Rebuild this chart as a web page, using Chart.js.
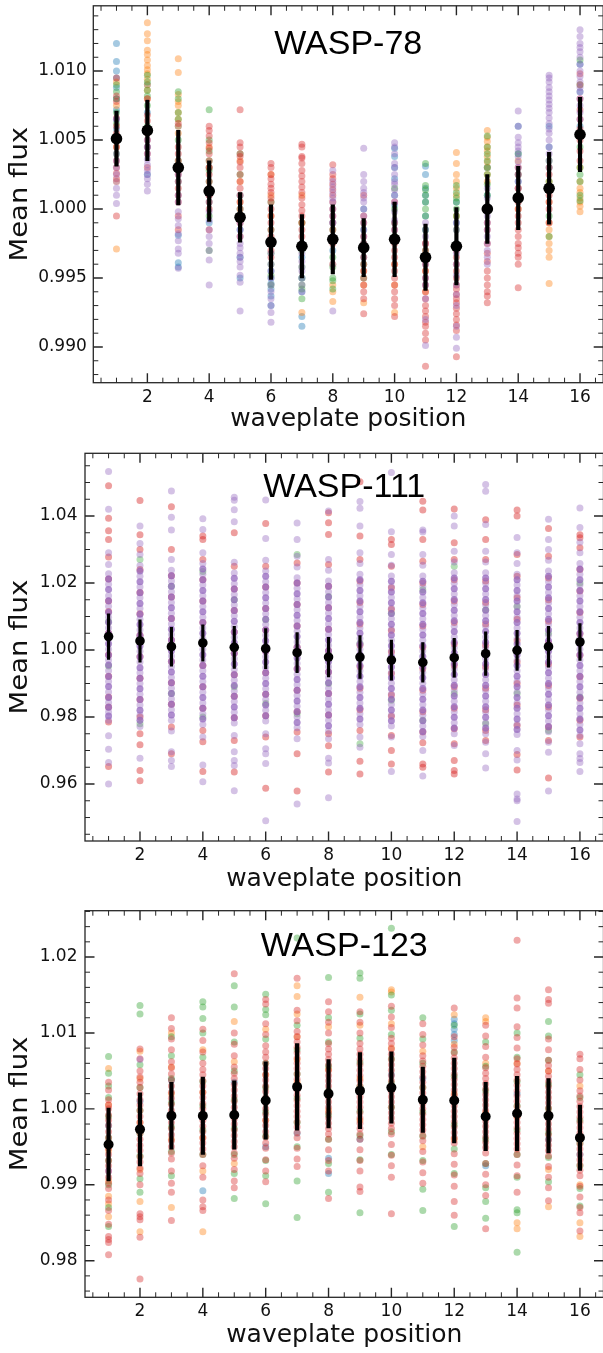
<!DOCTYPE html>
<html>
<head>
<meta charset="utf-8">
<script src="https://cdn.jsdelivr.net/npm/chart.js@4.4.0/dist/chart.umd.min.js"></script>
<style>
  html, body { margin: 0; padding: 0; background: #fff; overflow: hidden; }
  body { width: 603px; height: 1353px; position: relative; }
  canvas { position: absolute; left: 0; }
</style>
</head>
<body>
<canvas id="c78" width="610" height="445" style="top:0px"></canvas>
<canvas id="c111" width="610" height="460" style="top:440px"></canvas>
<canvas id="c123" width="610" height="463" style="top:890px"></canvas>
<script>
// waveplate positions (x categories) and labelled ticks
var positions = [1, 2, 3, 4, 5, 6, 7, 8, 9, 10, 11, 12, 13, 14, 15, 16];
var xTicks = [2, 4, 6, 8, 10, 12, 14, 16];

// ---------- WASP-78 ----------
var w78YTicks = [0.990, 0.995, 1.000, 1.005, 1.010];
var w78Mean = [1.0051, 1.0057, 1.0030, 1.0013, 0.9994, 0.9976, 0.9973, 0.9978, 0.9972, 0.9978, 0.9965, 0.9973, 1.0000, 1.0008, 1.0015, 1.0054];
var w78Err = [0.0020, 0.0022, 0.0027, 0.0022, 0.0018, 0.0027, 0.0023, 0.0025, 0.0021, 0.0027, 0.0024, 0.0028, 0.0025, 0.0023, 0.0026, 0.0027];
var w78Blue = [
  [1.0120, 1.0107, 1.0100, 1.0088, 1.0072, 1.0050, 1.0095, 1.0080, 1.0065, 1.0058],
  [1.0090, 1.0070, 1.0045, 1.0025],
  [1.0060, 1.0020, 0.9981, 0.9961, 0.9958],
  [1.0030, 1.0005, 0.9990],
  [1.0010, 0.9985, 0.9965, 0.9950],
  [0.9975, 0.9955, 0.9942, 0.9937, 0.9930, 0.9950, 0.9946],
  [0.9965, 0.9950, 0.9940, 0.9922, 0.9915],
  [0.9990, 0.9970],
  [1.0000, 0.9985, 0.9965],
  [1.0044, 1.0030, 1.0010, 0.9990, 1.0038, 1.0022, 1.0003],
  [1.0031, 1.0015, 1.0005, 0.9995, 0.9985, 1.0025, 1.0010],
  [1.0005, 0.9990],
  [1.0030, 1.0010],
  [1.0060, 1.0040, 1.0020],
  [1.0060, 1.0045, 1.0030],
  [1.0105, 1.0085, 1.0060]
];
var w78Orange = [
  [1.0092, 1.0075, 1.0045, 1.0020, 0.9971],
  [1.0135, 1.0127, 1.0122, 1.0115, 1.0112, 1.0104, 1.0098, 1.0090, 1.0108, 1.0101, 1.0094, 1.0086, 1.0080],
  [1.0109, 1.0099, 1.0083, 1.0075, 1.0065, 1.0055, 1.0078, 1.0070, 1.0060],
  [1.0045, 1.0030, 1.0010],
  [1.0035, 1.0020, 1.0005],
  [1.0025, 1.0010, 0.9995],
  [1.0010, 0.9990, 0.9925],
  [0.9960, 0.9945, 0.9940, 0.9933],
  [0.9955, 0.9945, 0.9932],
  [0.9960, 0.9945, 0.9925],
  [0.9975, 0.9955, 0.9940],
  [1.0041, 1.0033, 1.0025, 1.0010, 0.9995, 1.0020, 1.0015],
  [1.0057, 1.0052, 1.0045, 1.0038, 1.0030, 1.0020, 1.0049, 1.0042, 1.0034, 1.0025],
  [1.0035, 1.0015, 1.0000],
  [1.0020, 1.0005, 0.9990, 0.9980, 0.9970, 0.9965, 0.9946, 0.9985, 0.9975],
  [1.0030, 1.0020, 1.0012, 1.0005, 0.9998, 1.0015, 1.0008, 1.0002]
];
var w78Green = [
  [1.0090, 1.0080, 1.0062, 1.0040, 1.0085, 1.0070],
  [1.0097, 1.0086, 1.0075, 1.0060, 1.0092, 1.0082],
  [1.0085, 1.0070, 1.0050, 1.0035, 1.0080, 1.0065],
  [1.0072, 1.0050, 1.0035, 1.0020, 0.9995, 0.9970, 1.0042, 1.0028],
  [1.0040, 1.0025, 1.0000],
  [1.0005, 0.9985, 0.9960, 0.9945, 0.9978, 0.9968, 0.9952],
  [0.9990, 0.9970, 0.9950, 0.9945, 0.9935, 0.9958, 0.9942],
  [0.9985, 0.9965, 0.9950, 0.9942, 0.9958, 0.9948],
  [0.9975, 0.9960, 0.9950],
  [1.0015, 1.0000, 0.9980],
  [1.0033, 1.0017, 1.0010, 1.0000, 0.9985, 0.9970, 1.0014, 1.0005, 0.9995],
  [1.0017, 1.0012, 1.0005, 0.9995, 0.9985, 0.9975, 1.0008, 1.0000],
  [1.0053, 1.0045, 1.0035, 1.0025, 1.0010, 1.0040, 1.0030, 1.0018],
  [1.0040, 1.0025, 1.0010],
  [1.0035, 1.0020, 0.9995, 0.9980],
  [1.0108, 1.0090, 1.0045, 1.0025, 1.0006, 1.0030, 1.0020, 1.0010]
];
var w78Red = [
  [1.0095, 1.0082, 1.0066, 1.0055, 1.0030, 1.0022, 0.9995, 1.0078, 1.0060, 1.0045, 1.0035, 1.0026],
  [1.0080, 1.0068, 1.0055, 1.0040, 1.0030, 1.0064, 1.0058, 1.0050, 1.0045],
  [1.0062, 1.0045, 1.0030, 1.0015, 1.0005, 0.9995, 0.9985, 1.0040, 1.0035, 1.0025, 1.0020, 1.0010],
  [1.0060, 1.0057, 1.0053, 1.0044, 1.0025, 1.0015, 1.0000, 0.9985, 1.0048, 1.0040, 1.0035, 1.0030, 1.0020, 1.0010, 1.0005],
  [1.0072, 1.0048, 1.0045, 1.0038, 1.0030, 1.0020, 1.0010, 0.9995, 0.9980, 1.0040, 1.0034, 1.0025, 1.0015, 1.0005, 1.0000, 0.9990],
  [1.0033, 1.0025, 1.0018, 1.0012, 1.0005, 0.9995, 0.9985, 0.9975, 0.9965, 1.0030, 1.0022, 1.0015, 1.0008, 1.0000, 0.9990, 0.9980, 0.9970],
  [1.0047, 1.0045, 1.0038, 1.0037, 1.0028, 1.0020, 1.0012, 1.0003, 0.9995, 0.9980, 1.0033, 1.0024, 1.0016, 1.0008, 0.9999, 0.9990, 0.9985],
  [1.0032, 1.0025, 1.0018, 1.0010, 1.0000, 0.9990, 0.9975, 1.0022, 1.0014, 1.0005, 0.9995, 0.9985],
  [1.0010, 0.9995, 0.9980, 0.9965, 0.9950, 0.9935, 0.9924, 0.9990, 0.9975, 0.9960, 0.9955, 0.9945, 0.9940],
  [1.0005, 0.9990, 0.9975, 0.9965, 0.9955, 0.9945, 0.9935, 0.9930, 0.9922, 0.9985, 0.9970, 0.9960, 0.9950, 0.9940],
  [0.9975, 0.9960, 0.9950, 0.9940, 0.9930, 0.9922, 0.9915, 0.9910, 0.9905, 0.9886, 0.9970, 0.9965, 0.9955, 0.9945, 0.9935, 0.9926, 0.9918],
  [0.9970, 0.9960, 0.9950, 0.9942, 0.9935, 0.9928, 0.9920, 0.9912, 0.9893, 0.9965, 0.9955, 0.9945, 0.9938, 0.9932, 0.9924, 0.9916],
  [0.9990, 0.9975, 0.9962, 0.9955, 0.9945, 0.9940, 0.9937, 0.9932, 0.9985, 0.9968, 0.9950],
  [1.0030, 1.0015, 1.0000, 0.9990, 0.9980, 0.9972, 0.9965, 0.9960, 0.9943, 1.0025, 1.0005, 0.9995, 0.9985, 0.9975, 0.9968],
  [1.0030, 1.0015, 1.0000, 0.9990, 1.0025, 1.0010, 1.0005],
  [1.0098, 1.0080, 1.0065, 1.0050, 1.0035, 1.0090, 1.0072, 1.0058, 1.0042]
];
var w78Purple = [
  [1.0065, 1.0040, 1.0025, 1.0015, 1.0010, 1.0004, 1.0035, 1.0030, 1.0020],
  [1.0050, 1.0036, 1.0028, 1.0022, 1.0018, 1.0013, 1.0045, 1.0040, 1.0032, 1.0025],
  [1.0025, 1.0010, 0.9998, 0.9988, 0.9971, 0.9968, 0.9957, 1.0005, 0.9993, 0.9982, 0.9977],
  [1.0010, 0.9998, 0.9985, 0.9975, 0.9970, 0.9963, 0.9945, 0.9992, 0.9980],
  [0.9990, 0.9980, 0.9972, 0.9965, 0.9958, 0.9947, 0.9926, 0.9985, 0.9975, 0.9968, 0.9962, 0.9952],
  [0.9968, 0.9955, 0.9945, 0.9935, 0.9930, 0.9925, 0.9918, 0.9960, 0.9950, 0.9940],
  [0.9975, 0.9962, 0.9955, 0.9945, 0.9940, 0.9968, 0.9958, 0.9950],
  [1.0020, 1.0012, 1.0005, 0.9995, 0.9980, 0.9960, 0.9926, 1.0028, 1.0016, 1.0008, 1.0000, 0.9990],
  [1.0044, 1.0025, 1.0020, 1.0012, 1.0005, 0.9995, 0.9985, 0.9975, 1.0015, 1.0008, 1.0000, 0.9990, 0.9980],
  [1.0048, 1.0045, 1.0033, 1.0025, 1.0018, 1.0010, 0.9998, 0.9985, 1.0040, 1.0030, 1.0020, 1.0014, 1.0005, 0.9992],
  [0.9990, 0.9980, 0.9965, 0.9950, 0.9935, 0.9920, 0.9901, 0.9985, 0.9975, 0.9960, 0.9945],
  [0.9990, 0.9975, 0.9960, 0.9945, 0.9930, 0.9915, 0.9907, 0.9899, 0.9985, 0.9968, 0.9952, 0.9938],
  [1.0015, 1.0000, 0.9990, 0.9980, 0.9970, 0.9960, 1.0008, 0.9995, 0.9985, 0.9975, 0.9965],
  [1.0071, 1.0052, 1.0045, 1.0038, 1.0030, 1.0020, 1.0008, 1.0060, 1.0048, 1.0042, 1.0034, 1.0025, 1.0015],
  [1.0097, 1.0095, 1.0088, 1.0082, 1.0076, 1.0070, 1.0062, 1.0055, 1.0045, 1.0035, 1.0092, 1.0085, 1.0079, 1.0073, 1.0066, 1.0058, 1.0050, 1.0040],
  [1.0130, 1.0120, 1.0117, 1.0110, 1.0100, 1.0092, 1.0085, 1.0075, 1.0065, 1.0125, 1.0114, 1.0105, 1.0096, 1.0088, 1.0080, 1.0070]
];

// ---------- WASP-111 ----------
var w111YTicks = [0.96, 0.98, 1.00, 1.02, 1.04];
var w111Mean = [1.0040, 1.0027, 1.0010, 1.0021, 1.0008, 1.0004, 0.9992, 0.9979, 0.9979, 0.9970, 0.9963, 0.9977, 0.9989, 0.9999, 1.0010, 1.0024];
var w111Err = [0.0068, 0.0063, 0.0058, 0.0054, 0.0063, 0.0060, 0.0060, 0.0059, 0.0064, 0.0060, 0.0059, 0.0058, 0.0065, 0.0060, 0.0061, 0.0055];
var w111Purple = [
  [1.0533, 1.0420, 1.0290, 1.0255, 1.0228, 1.0196, 1.0162, 1.0131, 1.0098, 1.0066, 1.0034, 1.0002, 0.9970, 0.9938, 0.9906, 0.9875, 0.9843, 0.9815, 0.9790, 0.9744, 0.9704, 0.9664, 0.9600],
  [1.0370, 1.0318, 1.0285, 1.0252, 1.0220, 1.0188, 1.0156, 1.0124, 1.0092, 1.0060, 1.0028, 0.9996, 0.9964, 0.9932, 0.9900, 0.9868, 0.9836, 0.9805, 0.9772, 0.9677],
  [1.0475, 1.0396, 1.0358, 1.0270, 1.0238, 1.0206, 1.0174, 1.0142, 1.0110, 1.0078, 1.0046, 1.0014, 0.9982, 0.9950, 0.9918, 0.9886, 0.9854, 0.9822, 0.9790, 0.9758, 0.9696, 0.9670, 0.9652],
  [1.0392, 1.0360, 1.0290, 1.0258, 1.0226, 1.0194, 1.0162, 1.0130, 1.0098, 1.0066, 1.0034, 1.0002, 0.9970, 0.9938, 0.9906, 0.9874, 0.9842, 0.9810, 0.9778, 0.9740, 0.9657, 0.9607],
  [1.0456, 1.0447, 1.0419, 1.0383, 1.0262, 1.0230, 1.0198, 1.0166, 1.0134, 1.0102, 1.0070, 1.0038, 1.0006, 0.9974, 0.9942, 0.9910, 0.9878, 0.9846, 0.9814, 0.9782, 0.9745, 0.9696, 0.9670, 0.9655, 0.9580],
  [1.0448, 1.0333, 1.0268, 1.0236, 1.0204, 1.0172, 1.0140, 1.0108, 1.0076, 1.0044, 1.0012, 0.9980, 0.9948, 0.9916, 0.9884, 0.9852, 0.9820, 0.9788, 0.9750, 0.9705, 0.9690, 0.9661, 0.9490],
  [1.0379, 1.0330, 1.0280, 1.0248, 1.0216, 1.0184, 1.0152, 1.0120, 1.0088, 1.0056, 1.0024, 0.9992, 0.9960, 0.9928, 0.9896, 0.9864, 0.9832, 0.9800, 0.9768, 0.9735, 0.9540],
  [1.0415, 1.0270, 1.0238, 1.0206, 1.0174, 1.0142, 1.0110, 1.0078, 1.0046, 1.0014, 0.9982, 0.9950, 0.9918, 0.9886, 0.9854, 0.9822, 0.9790, 0.9758, 0.9735, 0.9677, 0.9663, 0.9559],
  [1.0443, 1.0423, 1.0370, 1.0290, 1.0258, 1.0226, 1.0194, 1.0162, 1.0130, 1.0098, 1.0066, 1.0034, 1.0002, 0.9970, 0.9938, 0.9906, 0.9874, 0.9842, 0.9810, 0.9778, 0.9740, 0.9710],
  [1.0530, 1.0353, 1.0285, 1.0253, 1.0221, 1.0189, 1.0157, 1.0125, 1.0093, 1.0061, 1.0029, 0.9997, 0.9965, 0.9933, 0.9901, 0.9869, 0.9837, 0.9805, 0.9773, 0.9740, 0.9637],
  [1.0358, 1.0352, 1.0285, 1.0253, 1.0221, 1.0189, 1.0157, 1.0125, 1.0093, 1.0061, 1.0029, 0.9997, 0.9965, 0.9933, 0.9901, 0.9869, 0.9837, 0.9805, 0.9773, 0.9742, 0.9700, 0.9624],
  [1.0400, 1.0370, 1.0295, 1.0263, 1.0231, 1.0199, 1.0167, 1.0135, 1.0103, 1.0071, 1.0039, 1.0007, 0.9975, 0.9943, 0.9911, 0.9879, 0.9847, 0.9815, 0.9783, 0.9750, 0.9715],
  [1.0494, 1.0474, 1.0375, 1.0295, 1.0263, 1.0231, 1.0199, 1.0167, 1.0135, 1.0103, 1.0071, 1.0039, 1.0007, 0.9975, 0.9943, 0.9911, 0.9879, 0.9847, 0.9815, 0.9783, 0.9750, 0.9725, 0.9690, 0.9648],
  [1.0336, 1.0290, 1.0258, 1.0226, 1.0194, 1.0162, 1.0130, 1.0098, 1.0066, 1.0034, 1.0002, 0.9970, 0.9938, 0.9906, 0.9874, 0.9842, 0.9810, 0.9778, 0.9748, 0.9700, 0.9672, 0.9570, 0.9555, 0.9550, 0.9488],
  [1.0390, 1.0330, 1.0300, 1.0268, 1.0236, 1.0204, 1.0172, 1.0140, 1.0108, 1.0076, 1.0044, 1.0012, 0.9980, 0.9948, 0.9916, 0.9884, 0.9852, 0.9820, 0.9788, 0.9756, 0.9725, 0.9695, 0.9579],
  [1.0424, 1.0366, 1.0322, 1.0290, 1.0258, 1.0226, 1.0194, 1.0162, 1.0130, 1.0098, 1.0066, 1.0034, 1.0002, 0.9970, 0.9938, 0.9906, 0.9874, 0.9842, 0.9810, 0.9778, 0.9745, 0.9720, 0.9690, 0.9676, 0.9664, 0.9637]
];
// the solid purple core of each WASP-111 column
var w111PurpleCore = [
  [1.0212, 1.0181, 1.0147, 1.0113, 1.0083, 1.0049, 1.0019, 0.9985, 0.9955, 0.9921, 0.9891, 0.9858, 0.9829, 0.9803],
  [1.0236, 1.0204, 1.0171, 1.0139, 1.0107, 1.0076, 1.0043, 1.0012, 0.9980, 0.9947, 0.9916, 0.9884, 0.9852, 0.9820, 0.9790],
  [1.0222, 1.0190, 1.0158, 1.0126, 1.0094, 1.0062, 1.0030, 0.9998, 0.9966, 0.9934, 0.9902, 0.9870, 0.9838, 0.9806],
  [1.0242, 1.0210, 1.0178, 1.0146, 1.0114, 1.0082, 1.0050, 1.0018, 0.9986, 0.9954, 0.9922, 0.9890, 0.9858, 0.9826, 0.9794],
  [1.0214, 1.0182, 1.0150, 1.0118, 1.0086, 1.0054, 1.0022, 0.9990, 0.9958, 0.9926, 0.9894, 0.9862, 0.9830, 0.9798],
  [1.0220, 1.0188, 1.0156, 1.0124, 1.0092, 1.0060, 1.0028, 0.9996, 0.9964, 0.9932, 0.9900, 0.9868, 0.9836, 0.9804],
  [1.0200, 1.0168, 1.0136, 1.0104, 1.0072, 1.0040, 1.0008, 0.9976, 0.9944, 0.9912, 0.9880, 0.9848, 0.9816, 0.9784],
  [1.0190, 1.0158, 1.0126, 1.0094, 1.0062, 1.0030, 0.9998, 0.9966, 0.9934, 0.9902, 0.9870, 0.9838, 0.9806, 0.9774],
  [1.0210, 1.0178, 1.0146, 1.0114, 1.0082, 1.0050, 1.0018, 0.9986, 0.9954, 0.9922, 0.9890, 0.9858, 0.9826, 0.9794],
  [1.0205, 1.0173, 1.0141, 1.0109, 1.0077, 1.0045, 1.0013, 0.9981, 0.9949, 0.9917, 0.9885, 0.9853, 0.9821, 0.9789],
  [1.0205, 1.0173, 1.0141, 1.0109, 1.0077, 1.0045, 1.0013, 0.9981, 0.9949, 0.9917, 0.9885, 0.9853, 0.9821, 0.9789, 0.9757],
  [1.0215, 1.0183, 1.0151, 1.0119, 1.0087, 1.0055, 1.0023, 0.9991, 0.9959, 0.9927, 0.9895, 0.9863, 0.9831, 0.9799, 0.9767],
  [1.0215, 1.0183, 1.0151, 1.0119, 1.0087, 1.0055, 1.0023, 0.9991, 0.9959, 0.9927, 0.9895, 0.9863, 0.9831, 0.9799, 0.9767],
  [1.0210, 1.0178, 1.0146, 1.0114, 1.0082, 1.0050, 1.0018, 0.9986, 0.9954, 0.9922, 0.9890, 0.9858, 0.9826, 0.9794, 0.9763],
  [1.0220, 1.0188, 1.0156, 1.0124, 1.0092, 1.0060, 1.0028, 0.9996, 0.9964, 0.9932, 0.9900, 0.9868, 0.9836, 0.9804, 0.9772],
  [1.0242, 1.0210, 1.0178, 1.0146, 1.0114, 1.0082, 1.0050, 1.0018, 0.9986, 0.9954, 0.9922, 0.9890, 0.9858, 0.9826, 0.9794, 0.9761]
];
var w111Red = [
  [1.0490, 1.0393, 1.0356, 1.0330, 1.0278, 1.0212, 1.0146, 1.0115, 1.0050, 0.9986, 0.9922, 0.9860, 0.9830, 0.9785, 0.9652],
  [1.0446, 1.0344, 1.0300, 1.0240, 1.0172, 1.0108, 1.0044, 0.9980, 0.9916, 0.9852, 0.9800, 0.9750, 0.9717, 0.9640, 0.9610],
  [1.0428, 1.0300, 1.0222, 1.0158, 1.0094, 1.0030, 0.9966, 0.9902, 0.9838, 0.9770, 0.9690],
  [1.0340, 1.0330, 1.0270, 1.0210, 1.0146, 1.0082, 1.0018, 0.9954, 0.9890, 0.9826, 0.9760, 0.9726, 0.9637],
  [1.0350, 1.0250, 1.0182, 1.0118, 1.0054, 0.9990, 0.9926, 0.9862, 0.9798, 0.9730, 0.9636],
  [1.0378, 1.0250, 1.0188, 1.0124, 1.0060, 0.9996, 0.9932, 0.9868, 0.9804, 0.9740, 0.9587],
  [1.0260, 1.0200, 1.0136, 1.0072, 1.0008, 0.9944, 0.9880, 0.9816, 0.9755, 0.9690, 0.9579],
  [1.0410, 1.0380, 1.0345, 1.0255, 1.0190, 1.0126, 1.0062, 0.9998, 0.9934, 0.9870, 0.9806, 0.9750, 0.9714, 0.9636],
  [1.0502, 1.0340, 1.0270, 1.0206, 1.0142, 1.0078, 1.0014, 0.9950, 0.9886, 0.9822, 0.9760, 0.9668, 0.9630],
  [1.0330, 1.0315, 1.0250, 1.0186, 1.0122, 1.0058, 0.9994, 0.9930, 0.9866, 0.9802, 0.9745, 0.9700, 0.9660],
  [1.0444, 1.0418, 1.0330, 1.0265, 1.0200, 1.0136, 1.0072, 1.0008, 0.9944, 0.9880, 0.9816, 0.9755, 0.9723, 0.9660, 0.9650],
  [1.0421, 1.0320, 1.0270, 1.0210, 1.0146, 1.0082, 1.0018, 0.9954, 0.9890, 0.9826, 0.9765, 0.9720, 0.9670, 0.9640, 0.9630],
  [1.0389, 1.0330, 1.0270, 1.0206, 1.0142, 1.0078, 1.0014, 0.9950, 0.9886, 0.9822, 0.9760, 0.9730],
  [1.0418, 1.0400, 1.0285, 1.0220, 1.0156, 1.0092, 1.0028, 0.9964, 0.9900, 0.9836, 0.9775, 0.9688, 0.9642],
  [1.0363, 1.0280, 1.0215, 1.0150, 1.0086, 1.0022, 0.9958, 0.9894, 0.9830, 0.9770, 0.9730, 0.9618],
  [1.0344, 1.0335, 1.0305, 1.0240, 1.0176, 1.0112, 1.0048, 0.9984, 0.9920, 0.9856, 0.9790, 0.9740]
];
var w111Green = [
  [1.0085, 0.9952], [1.0270, 0.9780], [1.0190, 0.9870], [1.0234, 0.9800],
  [1.0150, 0.9890], [1.0090, 0.9840], [1.0285, 0.9810], [1.0160, 0.9900],
  [1.0020, 0.9720], [1.0110, 0.9850], [1.0180, 0.9790], [1.0250, 0.9870],
  [1.0120, 0.9780], [1.0130, 0.9870], [1.0050, 0.9760], [1.0200, 0.9860]
];

// ---------- WASP-123 ----------
var w123YTicks = [0.98, 0.99, 1.00, 1.01, 1.02];
var w123Mean = [0.9953, 0.9973, 0.9991, 0.9991, 0.9992, 1.0011, 1.0029, 1.0020, 1.0024, 1.0028, 1.0012, 1.0011, 0.9990, 0.9994, 0.9991, 0.9962];
var w123Err = [0.0048, 0.0048, 0.0044, 0.0051, 0.0045, 0.0051, 0.0057, 0.0045, 0.0050, 0.0047, 0.0043, 0.0056, 0.0045, 0.0049, 0.0049, 0.0043];
var w123Blue = [
  [0.9978], [1.0010], [1.0038], [0.9892], [1.0035], [0.9950], [0.9968], [0.9915, 0.9935],
  [0.9960], [1.0045], [1.0040], [1.0118, 1.0112, 1.0105, 1.0098, 1.0090], [0.9925], [1.0020], [0.9960], [0.9940]
];
var w123Orange = [
  [1.0053, 1.0005, 0.9945, 0.9905, 0.9885, 0.9875, 0.9858],
  [1.0076, 1.0040, 0.9982, 0.9920, 0.9878, 0.9838],
  [1.0100, 1.0055, 1.0020, 0.9960, 0.9870],
  [1.0078, 1.0022, 0.9962, 0.9918, 0.9838],
  [1.0115, 1.0062, 0.9990, 0.9928],
  [1.0105, 1.0045, 0.9985],
  [1.0162, 1.0148, 1.0125, 1.0095, 1.0065, 1.0035],
  [1.0108, 1.0052, 0.9998],
  [1.0147, 1.0110, 1.0040, 0.9985],
  [1.0157, 1.0154, 1.0112, 1.0080, 1.0030],
  [1.0076, 1.0010, 0.9950],
  [1.0124, 1.0085, 1.0020, 0.9960],
  [1.0120, 1.0115, 1.0060, 0.9995],
  [1.0060, 0.9990, 0.9850, 0.9842],
  [1.0050, 0.9990, 0.9920, 0.9871],
  [1.0030, 0.9960, 0.9900, 0.9850, 0.9832]
];
var w123Green = [
  [1.0069, 1.0047, 1.0030, 1.0015, 0.9990, 0.9962, 0.9932, 0.9900, 0.9870, 0.9845],
  [1.0136, 1.0125, 1.0058, 1.0028, 0.9998, 0.9968, 0.9938, 0.9908, 0.9890],
  [1.0095, 1.0070, 1.0040, 1.0008, 0.9976, 0.9944, 0.9912],
  [1.0141, 1.0134, 1.0119, 1.0100, 1.0068, 1.0036, 1.0004, 0.9972, 0.9940],
  [1.0162, 1.0134, 1.0088, 1.0050, 1.0012, 0.9974, 0.9940, 0.9915, 0.9882],
  [1.0151, 1.0131, 1.0124, 1.0092, 1.0060, 1.0028, 0.9996, 0.9964, 0.9932, 0.9912, 0.9875],
  [1.0225, 1.0110, 1.0078, 1.0046, 1.0014, 0.9982, 0.9950, 0.9905, 0.9857],
  [1.0173, 1.0120, 1.0088, 1.0056, 1.0024, 0.9992, 0.9960, 0.9928, 0.9890],
  [1.0179, 1.0172, 1.0125, 1.0093, 1.0061, 1.0029, 0.9997, 0.9965, 0.9933, 0.9863],
  [1.0238, 1.0150, 1.0130, 1.0098, 1.0066, 1.0034, 1.0002, 0.9970, 0.9940],
  [1.0120, 1.0092, 1.0060, 1.0028, 0.9996, 0.9964, 0.9932, 0.9894, 0.9866],
  [1.0110, 1.0075, 1.0043, 1.0011, 0.9979, 0.9947, 0.9915, 0.9845],
  [1.0088, 1.0056, 1.0024, 0.9992, 0.9960, 0.9928, 0.9896, 0.9878, 0.9856],
  [1.0100, 1.0068, 1.0036, 1.0004, 0.9972, 0.9940, 0.9910, 0.9867, 0.9863, 0.9811],
  [1.0115, 1.0096, 1.0064, 1.0032, 1.0000, 0.9968, 0.9936, 0.9904],
  [1.0045, 1.0015, 0.9985, 0.9955, 0.9925, 0.9895, 0.9872]
];
var w123Red = [
  [1.0035, 1.0025, 1.0012, 1.0000, 0.9985, 0.9970, 0.9955, 0.9940, 0.9925, 0.9910, 0.9895, 0.9880, 0.9866, 0.9848, 0.9832, 0.9828, 0.9824, 0.9808, 1.0005, 0.9992, 0.9978, 0.9962, 0.9948, 0.9932, 0.9918, 0.9902],
  [1.0079, 1.0066, 1.0050, 1.0035, 1.0020, 1.0005, 0.9990, 0.9975, 0.9960, 0.9945, 0.9930, 0.9915, 0.9900, 0.9862, 0.9858, 0.9854, 0.9831, 0.9776, 1.0042, 1.0028, 1.0012, 0.9998, 0.9982, 0.9968, 0.9952, 0.9937, 0.9922],
  [1.0120, 1.0106, 1.0092, 1.0078, 1.0062, 1.0046, 1.0030, 1.0014, 0.9998, 0.9982, 0.9966, 0.9950, 0.9934, 0.9918, 0.9902, 0.9890, 0.9853, 1.0054, 1.0038, 1.0022, 1.0006, 0.9990, 0.9974, 0.9958, 0.9942],
  [1.0105, 1.0090, 1.0075, 1.0060, 1.0045, 1.0030, 1.0015, 1.0000, 0.9985, 0.9970, 0.9955, 0.9940, 0.9925, 0.9910, 0.9880, 0.9871, 0.9866, 1.0052, 1.0037, 1.0022, 1.0007, 0.9992, 0.9977, 0.9962, 0.9947],
  [1.0178, 1.0100, 1.0085, 1.0070, 1.0055, 1.0040, 1.0025, 1.0010, 0.9995, 0.9980, 0.9965, 0.9950, 0.9935, 0.9920, 0.9905, 0.9896, 1.0047, 1.0032, 1.0017, 1.0002, 0.9987, 0.9972, 0.9957, 0.9942],
  [1.0144, 1.0138, 1.0112, 1.0098, 1.0083, 1.0068, 1.0053, 1.0038, 1.0023, 1.0008, 0.9993, 0.9978, 0.9963, 0.9948, 0.9933, 0.9918, 0.9904, 1.0075, 1.0060, 1.0045, 1.0030, 1.0015, 1.0000, 0.9985, 0.9970, 0.9955],
  [1.0172, 1.0130, 1.0116, 1.0102, 1.0088, 1.0074, 1.0060, 1.0046, 1.0032, 1.0018, 1.0004, 0.9990, 0.9976, 0.9962, 0.9948, 0.9934, 0.9924, 1.0095, 1.0081, 1.0067, 1.0053, 1.0039, 1.0025, 1.0011, 0.9997, 0.9983, 0.9969],
  [1.0141, 1.0128, 1.0114, 1.0100, 1.0086, 1.0072, 1.0058, 1.0044, 1.0030, 1.0016, 1.0002, 0.9988, 0.9974, 0.9960, 0.9946, 0.9932, 0.9918, 0.9882, 1.0079, 1.0065, 1.0051, 1.0037, 1.0023, 1.0009, 0.9995, 0.9981, 0.9967],
  [1.0128, 1.0114, 1.0100, 1.0086, 1.0072, 1.0058, 1.0044, 1.0030, 1.0016, 1.0002, 0.9988, 0.9974, 0.9960, 0.9946, 0.9932, 0.9918, 0.9897, 0.9891, 1.0079, 1.0065, 1.0051, 1.0037, 1.0023, 1.0009, 0.9995, 0.9981, 0.9967],
  [1.0135, 1.0121, 1.0107, 1.0093, 1.0079, 1.0065, 1.0051, 1.0037, 1.0023, 1.0009, 0.9995, 0.9981, 0.9967, 0.9953, 0.9939, 0.9925, 0.9910, 0.9862, 1.0086, 1.0072, 1.0058, 1.0044, 1.0030, 1.0016, 1.0002, 0.9988, 0.9974],
  [1.0112, 1.0098, 1.0084, 1.0070, 1.0056, 1.0042, 1.0028, 1.0014, 1.0000, 0.9986, 0.9972, 0.9958, 0.9944, 0.9930, 0.9916, 0.9902, 1.0063, 1.0049, 1.0035, 1.0021, 1.0007, 0.9993, 0.9979, 0.9965],
  [1.0133, 1.0095, 1.0081, 1.0067, 1.0053, 1.0039, 1.0025, 1.0011, 0.9997, 0.9983, 0.9969, 0.9955, 0.9941, 0.9927, 0.9913, 0.9898, 0.9878, 0.9860, 1.0074, 1.0060, 1.0046, 1.0032, 1.0018, 1.0004, 0.9990, 0.9976, 0.9962],
  [1.0110, 1.0096, 1.0082, 1.0068, 1.0054, 1.0040, 1.0026, 1.0012, 0.9998, 0.9984, 0.9970, 0.9956, 0.9942, 0.9928, 0.9914, 0.9900, 0.9886, 0.9842, 1.0047, 1.0033, 1.0019, 1.0005, 0.9991, 0.9977, 0.9963, 0.9949],
  [1.0222, 1.0146, 1.0133, 1.0108, 1.0094, 1.0080, 1.0066, 1.0052, 1.0038, 1.0024, 1.0010, 0.9996, 0.9982, 0.9968, 0.9954, 0.9940, 0.9926, 0.9912, 0.9890, 1.0059, 1.0045, 1.0031, 1.0017, 1.0003, 0.9989, 0.9975, 0.9961, 0.9947],
  [1.0157, 1.0144, 1.0139, 1.0092, 1.0078, 1.0064, 1.0050, 1.0036, 1.0022, 1.0008, 0.9994, 0.9980, 0.9966, 0.9952, 0.9938, 0.9924, 0.9910, 0.9896, 0.9879, 1.0057, 1.0043, 1.0029, 1.0015, 1.0001, 0.9987, 0.9973, 0.9959, 0.9945],
  [1.0072, 1.0066, 1.0052, 1.0038, 1.0024, 1.0010, 0.9996, 0.9982, 0.9968, 0.9954, 0.9940, 0.9926, 0.9912, 0.9898, 0.9884, 0.9870, 0.9863, 0.9839, 1.0017, 1.0003, 0.9989, 0.9975, 0.9961, 0.9947, 0.9933, 0.9919]
];
var w123Purple = [[0.9918], [1.0065], [], [], [], [], [], [], [], [], [], [], [], [], [], []];

// tab10 colours, translucent like the original markers
function tab(rgb, a) { return 'rgba(' + rgb + ',' + a + ')'; }
var BLUE = '31,119,180', ORANGE = '255,127,14', GREEN = '44,160,44', RED = '214,39,40', PURPLE = '148,103,189';

function span(lo, hi, step) {
  var out = [];
  for (var v = Math.ceil(lo / step - 1e-9) * step; v <= hi + 1e-12; v += step) out.push(+v.toFixed(6));
  return out;
}

// frame, inward major/minor ticks on all four sides, title and y label
var framePlugin = {
  id: 'frame',
  afterDatasetsDraw: function (chart, args, o) {
    var ctx = chart.ctx, a = chart.chartArea, x = chart.scales.x, y = chart.scales.y;
    var near = function (list, v, eps) { return list.some(function (m) { return Math.abs(m - v) < eps; }); };
    ctx.save();
    ctx.strokeStyle = '#262626';
    ctx.lineWidth = 1;
    ctx.beginPath();
    span(x.min, x.max, 0.5).forEach(function (v) {
      if (near(xTicks, v, 1e-6)) return;
      var px = x.getPixelForValue(v);
      ctx.moveTo(px, a.bottom); ctx.lineTo(px, a.bottom - 5);
      ctx.moveTo(px, a.top); ctx.lineTo(px, a.top + 5);
    });
    span(y.min, y.max, o.yMinor).forEach(function (v) {
      if (near(o.yTicks, v, o.yMinor / 10)) return;
      var py = y.getPixelForValue(v);
      ctx.moveTo(a.left, py); ctx.lineTo(a.left + 5, py);
      ctx.moveTo(a.right, py); ctx.lineTo(a.right - 5, py);
    });
    ctx.stroke();
    ctx.lineWidth = 1.4;
    ctx.beginPath();
    xTicks.forEach(function (v) {
      var px = x.getPixelForValue(v);
      ctx.moveTo(px, a.bottom); ctx.lineTo(px, a.bottom - 9.5);
      ctx.moveTo(px, a.top); ctx.lineTo(px, a.top + 9.5);
    });
    o.yTicks.forEach(function (v) {
      var py = y.getPixelForValue(v);
      ctx.moveTo(a.left, py); ctx.lineTo(a.left + 9.5, py);
      ctx.moveTo(a.right, py); ctx.lineTo(a.right - 9.5, py);
    });
    ctx.stroke();
    ctx.lineWidth = 1.3;
    ctx.strokeRect(a.left, a.top, a.right - a.left, a.bottom - a.top);

    ctx.fillStyle = '#000';
    ctx.textAlign = 'center';
    ctx.textBaseline = 'middle';
    ctx.font = '34px "Liberation Sans", Arial, sans-serif';
    ctx.fillText(o.title, (a.left + a.right) / 2, a.top + o.titleDy);

    ctx.fillStyle = '#111';
    ctx.textBaseline = 'alphabetic';
    ctx.font = '25px "DejaVu Sans", sans-serif';
    ctx.save();
    ctx.translate(27, (a.top + a.bottom) / 2);
    ctx.rotate(-Math.PI / 2);
    ctx.scale(1.1, 1);
    ctx.fillText('Mean flux', 0, 0);
    ctx.restore();
    ctx.restore();
  }
};

function toPoints(cols) {
  var pts = [];
  cols.forEach(function (vals, i) {
    vals.forEach(function (v) { pts.push({ x: positions[i], y: v }); });
  });
  return pts;
}

function makePanel(p) {
  var datasets = [
    { type: 'scatter', data: positions.map(function (x, i) { return { x: x, y: p.mean[i] }; }),
      backgroundColor: '#000', borderWidth: 0, pointRadius: p.meanR, order: 0 },
    { type: 'bar', data: positions.map(function (x, i) { return { x: x, y: [p.mean[i] - p.err[i], p.mean[i] + p.err[i]] }; }),
      backgroundColor: '#000', borderWidth: 0, barThickness: p.barW, order: 1 }
  ];
  p.series.forEach(function (s, k) {
    datasets.push({ type: 'scatter', data: toPoints(s[0]), backgroundColor: s[1], borderWidth: 0,
      pointRadius: 3.5, order: 10 - k });
  });
  var tickFont = { family: 'DejaVu Sans', size: 17 };
  var titleFont = { family: 'DejaVu Sans', size: 25 };
  return new Chart(document.getElementById(p.id), {
    type: 'scatter',
    data: { datasets: datasets },
    plugins: [framePlugin],
    options: {
      responsive: false,
      animation: false,
      events: [],
      layout: { padding: { left: 0, top: p.top, right: 610 - p.right, bottom: 0 } },
      plugins: {
        legend: { display: false },
        tooltip: { enabled: false },
        frame: { title: p.title, titleDy: p.titleDy, yTicks: p.yTicks, yMinor: p.yMinor }
      },
      scales: {
        x: {
          type: 'linear', min: 0.25, max: 16.75, offset: false,
          afterBuildTicks: function (s) { s.ticks = xTicks.map(function (v) { return { value: v }; }); },
          afterFit: function (s) { s.height = p.xH; s.paddingLeft = 0; s.paddingRight = 0; },
          grid: { display: false, drawTicks: false, offset: false },
          border: { display: false },
          ticks: { font: tickFont, color: '#111', padding: 4.5, autoSkip: false, maxRotation: 0 },
          title: { display: true, text: 'waveplate position', font: titleFont, color: '#111',
            padding: { top: 0, bottom: p.xTitlePad } }
        },
        y: {
          type: 'linear', min: p.yMin, max: p.yMax,
          afterBuildTicks: function (s) { s.ticks = p.yTicks.map(function (v) { return { value: v }; }); },
          afterFit: function (s) { s.width = p.left; s.paddingTop = 0; s.paddingBottom = 0; },
          grid: { display: false, drawTicks: false },
          border: { display: false },
          ticks: { font: tickFont, color: '#111', padding: p.yPad,
            callback: function (v) { return Number(v).toFixed(p.dec); } },
          title: { display: false }
        }
      }
    }
  });
}

makePanel({ id: 'c78', title: 'WASP-78', titleDy: 39,
  series: [[w78Blue, tab(BLUE, 0.4)], [w78Orange, tab(ORANGE, 0.4)], [w78Green, tab(GREEN, 0.4)],
           [w78Red, tab(RED, 0.4)], [w78Purple, tab(PURPLE, 0.4)]],
  mean: w78Mean, err: w78Err, yTicks: w78YTicks, yMinor: 0.001, dec: 3,
  yMin: 0.98741, yMax: 1.01473, left: 93.3, top: 3.3, right: 603.2, xH: 62.3, xTitlePad: 11, yPad: 6.5,
  meanR: 5.8, barW: 3.5 });

makePanel({ id: 'c111', title: 'WASP-111', titleDy: 34,
  series: [[w111Green, tab(GREEN, 0.35)], [w111Red, tab(RED, 0.45)], [w111Purple, tab(PURPLE, 0.4)],
           [w111PurpleCore, tab(PURPLE, 0.75)]],
  mean: w111Mean, err: w111Err, yTicks: w111YTicks, yMinor: 0.005, dec: 2,
  yMin: 0.94299, yMax: 1.05872, left: 85, top: 13.3, right: 603.5, xH: 59, xTitlePad: 6, yPad: 7.5,
  meanR: 4.8, barW: 2.5 });

makePanel({ id: 'c123', title: 'WASP-123', titleDy: 35.5,
  series: [[w123Blue, tab(BLUE, 0.4)], [w123Orange, tab(ORANGE, 0.4)], [w123Green, tab(GREEN, 0.4)],
           [w123Red, tab(RED, 0.4)], [w123Purple, tab(PURPLE, 0.4)]],
  mean: w123Mean, err: w123Err, yTicks: w123YTicks, yMinor: 0.002, dec: 2,
  yMin: 0.97518, yMax: 1.0261, left: 85, top: 20.7, right: 603.5, xH: 55.7, xTitlePad: 3, yPad: 7.5,
  meanR: 5, barW: 3.5 });
</script>
</body>
</html>
